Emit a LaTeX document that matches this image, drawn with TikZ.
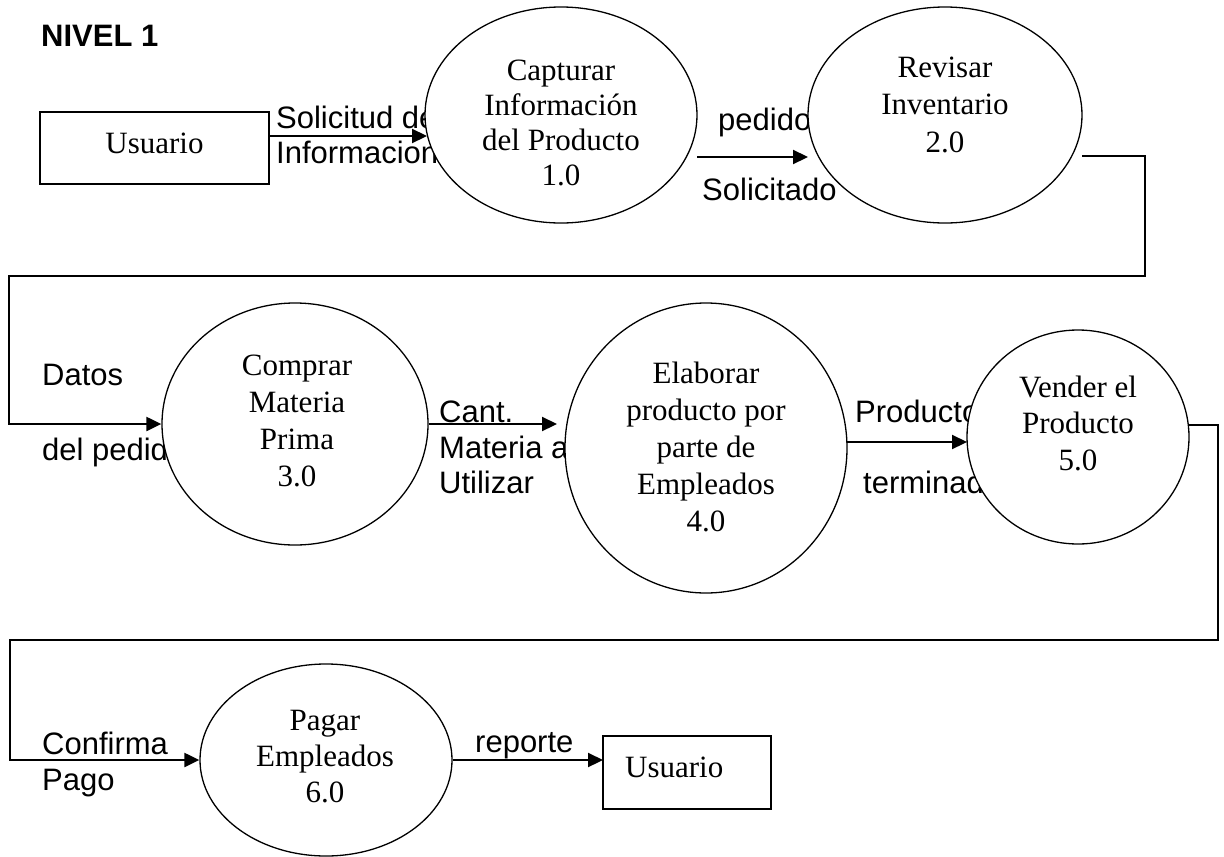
\documentclass[tikz,border=0pt]{standalone}
\usepackage{fontspec}
\setmainfont{Liberation Serif}
\newfontfamily\arialf{Liberation Sans}
\usetikzlibrary{shapes.geometric,arrows.meta}
\newcommand\plines[1]{\begin{tabular}[t]{@{}c@{}}#1\end{tabular}}
\tikzset{
  proc/.style={draw, ellipse, fill=white, line width=1.3pt, inner sep=0pt},
  ent/.style={draw, rectangle, line width=1.5pt, inner sep=0pt},
  flow/.style={line width=2.2pt, line join=miter, -{Triangle[length=15pt,width=14pt]}},
  lbl/.style={font=\arialf\fontsize{31}{35}\selectfont, anchor=base west, inner sep=0pt},
  ptxt/.style={font=\fontsize{31}{37}\selectfont, anchor=base, inner sep=0pt},
}
\begin{document}
\begin{tikzpicture}[x=1pt,y=-1pt]
\useasboundingbox (0,0) rectangle (1224,857);

% title
\node[lbl, font=\arialf\bfseries\fontsize{31}{35}\selectfont] (title) at (41,46) {NIVEL 1};

% flow labels (drawn first, partly covered by the processes)
\node[lbl] (l1a) at (276,128) {Solicitud de};
\node[lbl] (l1b) at (276,163) {Informacion};
\node[lbl] (l2a) at (718,130) {pedido};
\node[lbl] (l2b) at (702,200) {Solicitado};
\node[lbl] (l3a) at (42,385) {Datos};
\node[lbl] (l3b) at (42,460) {del pedido};
\node[lbl] (l4a) at (439,422) {Cant.};
\node[lbl] (l4b) at (439,458) {Materia a};
\node[lbl] (l4c) at (439,493) {Utilizar};
\node[lbl] (l5a) at (855,422) {Producto};
\node[lbl] (l5b) at (863,493) {terminado};
\node[lbl] (l6a) at (42,754) {Confirma};
\node[lbl] (l6b) at (42,790) {Pago};
\node[lbl] (l7) at (475,752) {reporte};

% entities
\node[ent, minimum width=229, minimum height=72] (b1) at (154.5,148) {};
\node[ptxt] (b1t) at (154.5,153) {Usuario};
\node[ent, minimum width=168, minimum height=73] (b2) at (687,772.5) {};
\node[ptxt, anchor=base west] (b2t) at (625,777) {Usuario};

% processes
\node[proc, minimum width=272, minimum height=216] (e1) at (561,115) {};
\node[proc, minimum width=274, minimum height=216] (e2) at (945,115) {};
\node[proc, minimum width=266, minimum height=242] (e3) at (295,424) {};
\node[proc, minimum width=282, minimum height=290] (e4) at (706,448) {};
\node[proc, minimum width=222, minimum height=214] (e5) at (1078,437) {};
\node[proc, minimum width=252, minimum height=192] (e6) at (326,760) {};

\node[ptxt, font=\fontsize{31}{35}\selectfont] (e1t) at (561,80) {\plines{Capturar\\Información\\del Producto\\1.0}};
\node[ptxt, font=\fontsize{31}{37.5}\selectfont] (e2t) at (945,77) {\plines{Revisar\\Inventario\\2.0}};
\node[ptxt] (e3t) at (297,375) {\plines{Comprar\\Materia\\Prima\\3.0}};
\node[ptxt] (e4t) at (706,383) {\plines{Elaborar\\producto por\\parte de\\Empleados\\4.0}};
\node[ptxt, font=\fontsize{31}{36.5}\selectfont] (e5t) at (1078,397) {\plines{Vender el\\Producto\\5.0}};
\node[ptxt, font=\fontsize{31}{36}\selectfont] (e6t) at (325,730) {\plines{Pagar\\Empleados\\6.0}};

% connector end points
\coordinate (a1s) at (269,136);
\coordinate (a1e) at (427,136);
\coordinate (a2s) at (697,157);
\coordinate (a2e) at (808,157);
\coordinate (k1) at (1082,156);
\coordinate (k2) at (1145,276);
\coordinate (k3) at (9,276);
\coordinate (a3e) at (557,424);
\coordinate (a4s) at (847,442);
\coordinate (a4e) at (967,442);
\coordinate (m1) at (1189,425);
\coordinate (m2) at (1218,640);
\coordinate (m3) at (10,640);
\coordinate (a6e) at (603,760);

% flows
\draw[flow] (a1s) -- (a1e);
\draw[flow] (a2s) -- (a2e);
\draw[flow] (k1) -| (k2) -- (k3) |- (e3.west);
\draw[flow] (e3.east) -- (a3e);
\draw[flow] (a4s) -- (a4e);
\draw[flow] (m1) -| (m2) -- (m3) |- (e6.west);
\draw[flow] (e6.east) -- (a6e);
\end{tikzpicture}
\end{document}
